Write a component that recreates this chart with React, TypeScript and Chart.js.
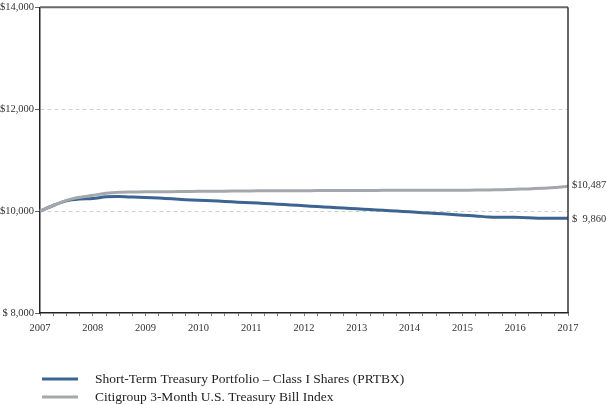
import React, { useEffect, useRef } from "react";
import { Chart, registerables } from "chart.js";

Chart.register(...registerables);

const years = [2007, 2008, 2009, 2010, 2011, 2012, 2013, 2014, 2015, 2016, 2017];

// quarterly values, 2007 Q1 .. 2017 Q1
const portfolioValues = [
  10000, 10110, 10200, 10235,
  10245, 10280, 10285, 10275,
  10265, 10255, 10240, 10225,
  10215, 10205, 10190, 10175,
  10165, 10150, 10135, 10120,
  10105, 10090, 10075, 10060,
  10045, 10030, 10015, 10000,
  9985, 9970, 9955, 9940,
  9920, 9905, 9885, 9880,
  9878, 9870, 9860, 9862,
  9860,
];

const indexValues = [
  10000, 10110, 10210, 10270,
  10310, 10350, 10370, 10375,
  10378, 10380, 10382, 10385,
  10388, 10390, 10392, 10394,
  10396, 10398, 10399, 10400,
  10401, 10402, 10403, 10404,
  10405, 10406, 10407, 10407,
  10408, 10408, 10409, 10409,
  10410, 10412, 10415, 10420,
  10428, 10436, 10448, 10462,
  10487,
];

const yTickLabels: Record<number, string> = {
  8000: "$ 8,000",
  10000: "$10,000",
  12000: "$12,000",
  14000: "$14,000",
};

const endLabels = ["$  9,860", "$10,487"];
const seriesNames = [
  "Short-Term Treasury Portfolio \u2013 Class I Shares (PRTBX)",
  "Citigroup 3-Month U.S. Treasury Bill Index",
];

const BLUE = "#3c6493";
const GRAY = "#a4a7ac";
const FONT = "'Liberation Serif', 'Times New Roman', serif";

const xLabels: string[] = years.flatMap((y, i) =>
  i < years.length - 1 ? [String(y), "", "", ""] : [String(y)]
);

export default function App() {
  const ref = useRef<HTMLCanvasElement | null>(null);

  useEffect(() => {
    if (!ref.current) return;
    const framePlugin = {
      id: "frame",
      afterDraw(chart: any) {
        const { ctx, chartArea } = chart;
        const { left, right, top, bottom } = chartArea;
        ctx.save();
        ctx.strokeStyle = "#6a6a6a";
        ctx.lineWidth = 2;
        ctx.beginPath();
        ctx.moveTo(left, top);
        ctx.lineTo(right, top);
        ctx.stroke();
        ctx.strokeStyle = "#333";
        ctx.lineWidth = 1.5;
        ctx.beginPath();
        ctx.moveTo(right, top);
        ctx.lineTo(right, bottom);
        ctx.stroke();
        const ys = chart.scales.y;
        ctx.fillStyle = "#333";
        ctx.font = `10.5px ${FONT}`;
        ctx.textAlign = "left";
        ctx.textBaseline = "middle";
        ctx.fillText(endLabels[0], right + 4, ys.getPixelForValue(portfolioValues[portfolioValues.length - 1]) + 1);
        ctx.fillText(endLabels[1], right + 4, ys.getPixelForValue(indexValues[indexValues.length - 1]) - 1);
        const colors = [BLUE, GRAY];
        const rows = [379, 397];
        ctx.font = `13.5px ${FONT}`;
        ctx.fillStyle = "#222";
        rows.forEach((yy, i) => {
          ctx.strokeStyle = colors[i];
          ctx.lineWidth = 3;
          ctx.beginPath();
          ctx.moveTo(42, yy);
          ctx.lineTo(78, yy);
          ctx.stroke();
          ctx.fillText(seriesNames[i], 95, yy);
        });
        ctx.restore();
      },
    };

    const chart = new Chart(ref.current, {
      type: "line",
      data: {
        labels: xLabels,
        datasets: [
          {
            label: seriesNames[1],
            data: indexValues,
            borderColor: GRAY,
            borderWidth: 3,
            pointRadius: 0,
            tension: 0.3,
          },
          {
            label: seriesNames[0],
            data: portfolioValues,
            borderColor: BLUE,
            borderWidth: 3,
            pointRadius: 0,
            tension: 0.3,
          },
        ],
      },
      options: {
        animation: false,
        responsive: false,
        layout: { padding: { top: 5, right: 38, bottom: 67, left: 0 } },
        plugins: { legend: { display: false }, tooltip: { enabled: false } },
        scales: {
          x: {
            offset: false,
            afterFit(scale: any) {
              scale.height = 25;
            },
            border: { color: "#222", width: 1.5 },
            grid: {
              drawOnChartArea: false,
              tickLength: 3,
              tickColor: "#777",
              tickWidth: 1,
            },
            ticks: {
              autoSkip: false,
              maxRotation: 0,
              padding: 6,
              color: "#333",
              font: { family: FONT, size: 10.5 },
            },
          },
          y: {
            min: 8000,
            max: 14000,
            afterFit(scale: any) {
              scale.width = 40;
            },
            border: { color: "#222", width: 1.5, dash: [4, 3] },
            grid: {
              color: (c: any) =>
                c.tick && (c.tick.value === 10000 || c.tick.value === 12000) ? "#d0d0d0" : "rgba(0,0,0,0)",
              lineWidth: 1,
              tickLength: 5,
              tickColor: "#666",
              tickBorderDash: [],
            } as any,
            ticks: {
              stepSize: 2000,
              padding: 1,
              color: "#333",
              font: { family: FONT, size: 10.5 },
              callback: (v: any) => yTickLabels[v] ?? "",
            },
          },
        },
      },
      plugins: [framePlugin],
    } as any);
    return () => chart.destroy();
  }, []);

  return (
    <div style={{ position: "absolute", left: 0, top: 0, width: 606, height: 405, background: "#fff" }}>
      <canvas ref={ref} width={606} height={405} style={{ width: 606, height: 405, display: "block" }} />
    </div>
  );
}
